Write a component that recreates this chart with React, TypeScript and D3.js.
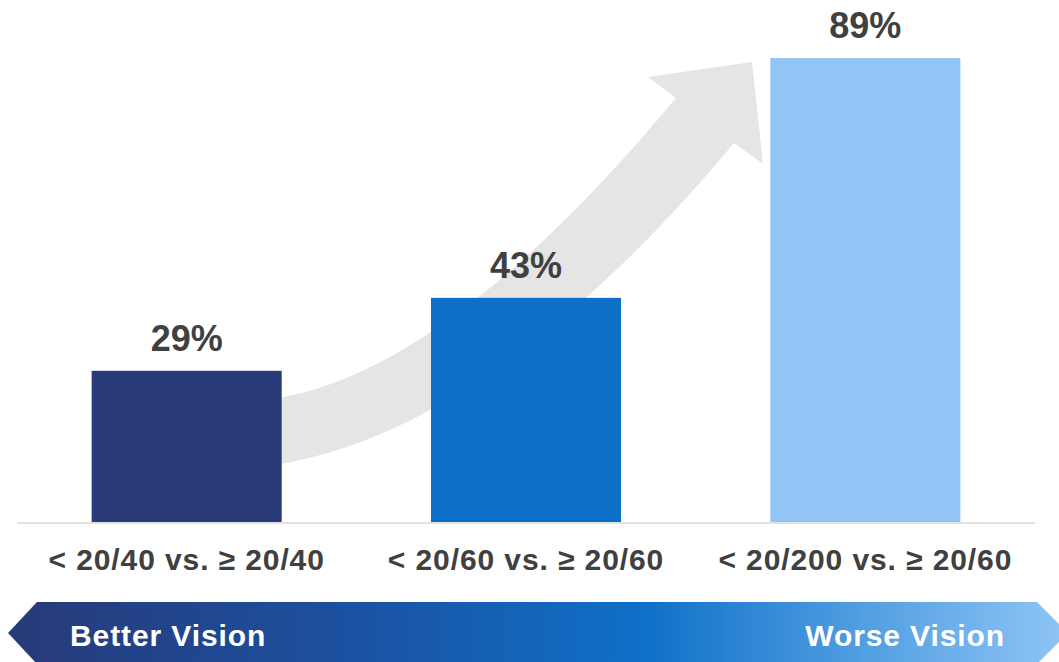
import React from "react";
import * as d3 from "d3";

const categories = ["< 20/40 vs. ≥ 20/40", "< 20/60 vs. ≥ 20/60", "< 20/200 vs. ≥ 20/60"];
const values = [29, 43, 89];
const barColors = ["#283a78", "#0e6fc6", "#90c5f6"];
const bannerLabels = ["Better Vision", "Worse Vision"];

const W = 1059;
const H = 662;
const FONT = "'Liberation Sans', Arial, Helvetica, sans-serif";

export default function App() {
  const x = d3
    .scaleBand<string>()
    .domain(categories)
    .range([17, 1035])
    .paddingInner(0.44)
    .paddingOuter(0.22);
  const y = d3.scaleLinear().domain([0, 100]).range([522, 0.7]);

  const arrowPath =
    "M250,401 C380,395 526,278 676,98 L648,77 L752,62 L763,164 L734,143 C564,347 400,455 250,468 Z";

  return (
    <svg
      width={W}
      height={H}
      style={{ position: "absolute", left: 0, top: 0, display: "block" }}
      fontFamily={FONT}
    >
      <defs>
        <linearGradient id="banner" x1="0" x2="1" y1="0" y2="0">
          <stop offset="0" stopColor="#283a78" />
          <stop offset="0.3" stopColor="#1c4f9e" />
          <stop offset="0.6" stopColor="#0f70c8" />
          <stop offset="0.8" stopColor="#4f9de0" />
          <stop offset="1" stopColor="#90c5f6" />
        </linearGradient>
      </defs>
      <rect x={0} y={0} width={W} height={H} fill="#ffffff" />
      <path d={arrowPath} fill="#e5e5e5" />
      {categories.map((c, i) => (
        <rect
          key={c}
          x={x(c)}
          y={y(values[i])}
          width={x.bandwidth()}
          height={y(0) - y(values[i])}
          fill={barColors[i]}
        />
      ))}
      <line x1={17} x2={1035} y1={523} y2={523} stroke="#d9d9d9" strokeWidth={1.5} />
      {categories.map((c, i) => (
        <text
          key={"v" + c}
          x={(x(c) as number) + x.bandwidth() / 2}
          y={y(values[i]) - 20}
          textAnchor="middle"
          fontSize={36}
          fontWeight="bold"
          fill="#404040"
        >
          {values[i] + "%"}
        </text>
      ))}
      {categories.map((c) => (
        <text
          key={"c" + c}
          x={(x(c) as number) + x.bandwidth() / 2}
          y={570}
          textAnchor="middle"
          fontSize={30}
          fontWeight="bold"
          letterSpacing={0.9}
          fill="#404040"
        >
          {c}
        </text>
      ))}
      <path
        d={`M37,602 L1037,602 L1068,633 L1037,664 L37,664 L8,633 Z`}
        fill="url(#banner)"
      />
      <text x={70} y={646} fontSize={30} fontWeight="bold" letterSpacing={0.9} fill="#ffffff">
        {bannerLabels[0]}
      </text>
      <text x={1005} y={646} textAnchor="end" fontSize={30} fontWeight="bold" letterSpacing={0.9} fill="#ffffff">
        {bannerLabels[1]}
      </text>
    </svg>
  );
}
